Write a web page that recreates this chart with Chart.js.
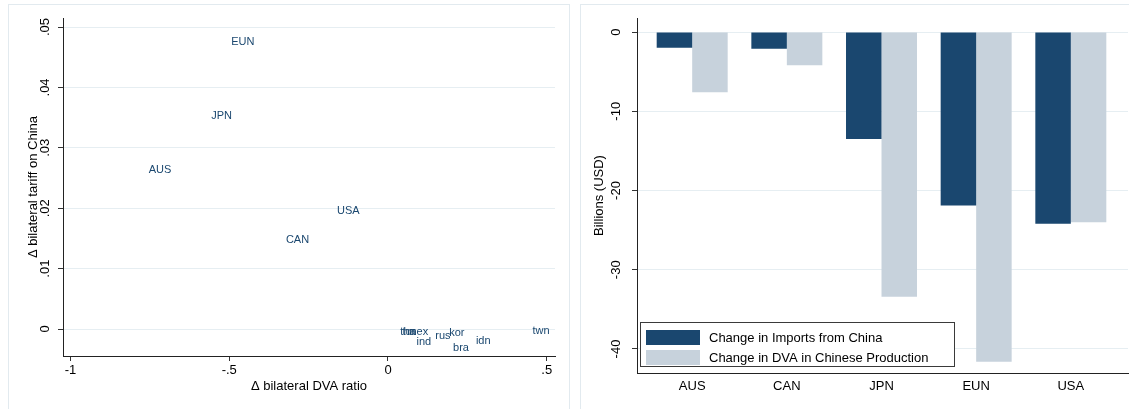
<!DOCTYPE html>
<html>
<head>
<meta charset="utf-8">
<script src="https://cdn.jsdelivr.net/npm/chart.js@4"></script>
<style>
  html, body { margin: 0; padding: 0; background: #ffffff; }
  body { width: 1133px; height: 409px; position: relative; overflow: hidden; }
  .panel { position: absolute; border: 1px solid #e2eaef; box-sizing: border-box; background: #ffffff; }
  canvas { position: absolute; }
</style>
</head>
<body>
<div class="panel" style="left:8px; top:4px; width:562px; height:420px;"></div>
<div class="panel" style="left:580px; top:4px; width:549px; height:420px; border-right:none;"></div>
<canvas id="scatter" width="561" height="405" style="left:8px; top:4px;"></canvas>
<canvas id="bars" width="553" height="405" style="left:580px; top:4px;"></canvas>
<script>
// Left panel: change in bilateral DVA ratio vs change in bilateral tariff on China
const countries    = ['EUN', 'JPN', 'AUS', 'USA', 'CAN', 'tha', 'tur', 'mex', 'ind', 'rus', 'kor', 'bra', 'idn', 'twn'];
const dvaChange    = [-0.457, -0.524, -0.718, -0.125, -0.285, 0.063, 0.066, 0.094, 0.113, 0.173, 0.217, 0.230, 0.300, 0.482];
const tariffChange = [0.0475, 0.0353, 0.0264, 0.0196, 0.0148, -0.0005, -0.0005, -0.0005, -0.0022, -0.0012, -0.0007, -0.0031, -0.0020, -0.0003];
const scatterXTicks = [-1, -0.5, 0, 0.5];
const scatterYTicks = [0, 0.01, 0.02, 0.03, 0.04, 0.05];

// Right panel: trade changes by economy, billions of USD
const regions      = ['AUS', 'CAN', 'JPN', 'EUN', 'USA'];
const importChange = [-2.0, -2.1, -13.5, -21.9, -24.2];
const dvaValue     = [-7.6, -4.2, -33.4, -41.6, -24.0];
const barYTicks    = [0, -10, -20, -30, -40];
const seriesNames  = ['Change in Imports from China', 'Change in DVA in Chinese Production'];

const NAVY = '#1a476f';
const LIGHT = '#c7d2dc';
const GRID = '#e6eef2';
const FONT = '"Liberation Sans", Arial, Helvetica, sans-serif';

// Stata-style number labels: ".05", "-.5", "0"
function stataNum(v) {
  if (v === 0) return '0';
  let s = String(v);
  return s.replace(/^(-?)0\./, '$1.');
}

function fixedTicks(values) {
  return function (scale) { scale.ticks = values.map(v => ({ value: v })); };
}

const pointLabels = {
  id: 'pointLabels',
  afterDatasetsDraw(chart) {
    const ctx = chart.ctx;
    const meta = chart.getDatasetMeta(0);
    ctx.save();
    ctx.font = '11px ' + FONT;
    ctx.fillStyle = NAVY;
    ctx.textAlign = 'center';
    ctx.textBaseline = 'middle';
    meta.data.forEach((el, i) => ctx.fillText(countries[i], el.x, el.y));
    ctx.restore();
  }
};

new Chart(document.getElementById('scatter'), {
  type: 'scatter',
  data: {
    datasets: [{
      data: dvaChange.map((x, i) => ({ x: x, y: tariffChange[i] })),
      pointRadius: 0,
      pointHoverRadius: 0
    }]
  },
  options: {
    responsive: false,
    animation: false,
    events: [],
    layout: { padding: { top: 14, right: 14, left: 0, bottom: 0 } },
    plugins: { legend: { display: false }, tooltip: { enabled: false } },
    scales: {
      x: {
        type: 'linear',
        min: -1.0236,
        max: 0.526,
        afterBuildTicks: fixedTicks(scatterXTicks),
        afterFit(s) { s.height = 53; },
        border: { display: true, color: '#222', width: 1 },
        grid: { drawOnChartArea: false, drawTicks: true, tickLength: 5, tickColor: '#333' },
        ticks: { color: '#000', font: { family: FONT, size: 13 }, padding: 2, maxRotation: 0, autoSkip: false,
                 callback: v => stataNum(v) },
        title: { display: true, text: '\u0394 bilateral DVA ratio', color: '#000',
                 font: { family: FONT, size: 13 }, padding: { top: 0, bottom: 15 } }
      },
      y: {
        type: 'linear',
        min: -0.00447,
        max: 0.0515,
        afterBuildTicks: fixedTicks(scatterYTicks),
        afterFit(s) { s.width = 55; },
        border: { display: true, color: '#222', width: 1 },
        grid: { color: GRID, lineWidth: 1, drawTicks: true, tickLength: 5, tickColor: '#333' },
        ticks: { color: '#000', font: { family: FONT, size: 13 }, padding: 4, minRotation: 90, maxRotation: 90,
                 crossAlign: 'center', autoSkip: false, callback: v => stataNum(v) },
        title: { display: true, text: '\u0394 bilateral tariff on China', color: '#000',
                 font: { family: FONT, size: 13 }, padding: { top: 18, bottom: 0 } }
      }
    }
  },
  plugins: [pointLabels]
});

// Legend drawn inside the plot area, lower left
const insetLegend = {
  id: 'insetLegend',
  afterDraw(chart) {
    const ctx = chart.ctx;
    const a = chart.chartArea;
    const w = 315, h = 45;
    const x0 = a.left + 3, y0 = a.bottom - 6 - h;
    ctx.save();
    ctx.fillStyle = '#ffffff';
    ctx.fillRect(x0, y0, w, h);
    ctx.strokeStyle = '#3a3a3a';
    ctx.lineWidth = 1;
    ctx.strokeRect(x0 + 0.5, y0 + 0.5, w - 1, h - 1);
    ctx.font = '13px ' + FONT;
    ctx.textBaseline = 'middle';
    ctx.textAlign = 'left';
    chart.data.datasets.forEach((ds, i) => {
      const sy = y0 + 8 + i * 20;
      ctx.fillStyle = ds.backgroundColor;
      ctx.fillRect(x0 + 6, sy, 54, 15);
      ctx.fillStyle = '#000';
      ctx.fillText(ds.label, x0 + 69, sy + 8);
    });
    ctx.restore();
  }
};

new Chart(document.getElementById('bars'), {
  type: 'bar',
  data: {
    datasets: [
      { label: seriesNames[0], data: importChange.map((v, i) => ({ x: i + 1, y: v })),
        backgroundColor: NAVY, borderWidth: 0 },
      { label: seriesNames[1], data: dvaValue.map((v, i) => ({ x: i + 1, y: v })),
        backgroundColor: LIGHT, borderWidth: 0 }
    ]
  },
  options: {
    responsive: false,
    animation: false,
    events: [],
    layout: { padding: { top: 14, right: 5, left: 0, bottom: 0 } },
    datasets: { bar: { categoryPercentage: 0.75, barPercentage: 1.0 } },
    plugins: { legend: { display: false }, tooltip: { enabled: false } },
    scales: {
      x: {
        type: 'linear',
        offset: false,
        min: 0.417,
        max: 5.604,
        afterBuildTicks: fixedTicks(regions.map((r, i) => i + 1)),
        afterFit(s) { s.height = 36; },
        border: { display: true, color: '#222', width: 1 },
        grid: { display: false, drawTicks: false },
        ticks: { color: '#000', font: { family: FONT, size: 13 }, padding: 6, maxRotation: 0, autoSkip: false,
                 callback: v => regions[Math.round(v) - 1] }
      },
      y: {
        type: 'linear',
        min: -43.03,
        max: 1.77,
        afterBuildTicks: fixedTicks(barYTicks),
        afterFit(s) { s.width = 57; },
        border: { display: true, color: '#222', width: 1 },
        grid: { color: GRID, lineWidth: 1, drawTicks: true, tickLength: 5, tickColor: '#333' },
        ticks: { color: '#000', font: { family: FONT, size: 13 }, padding: 6, minRotation: 90, maxRotation: 90,
                 crossAlign: 'center', autoSkip: false, callback: v => String(v) },
        title: { display: true, text: 'Billions (USD)', color: '#000',
                 font: { family: FONT, size: 13 }, padding: { top: 12, bottom: 0 } }
      }
    }
  },
  plugins: [insetLegend]
});
</script>
</body>
</html>
